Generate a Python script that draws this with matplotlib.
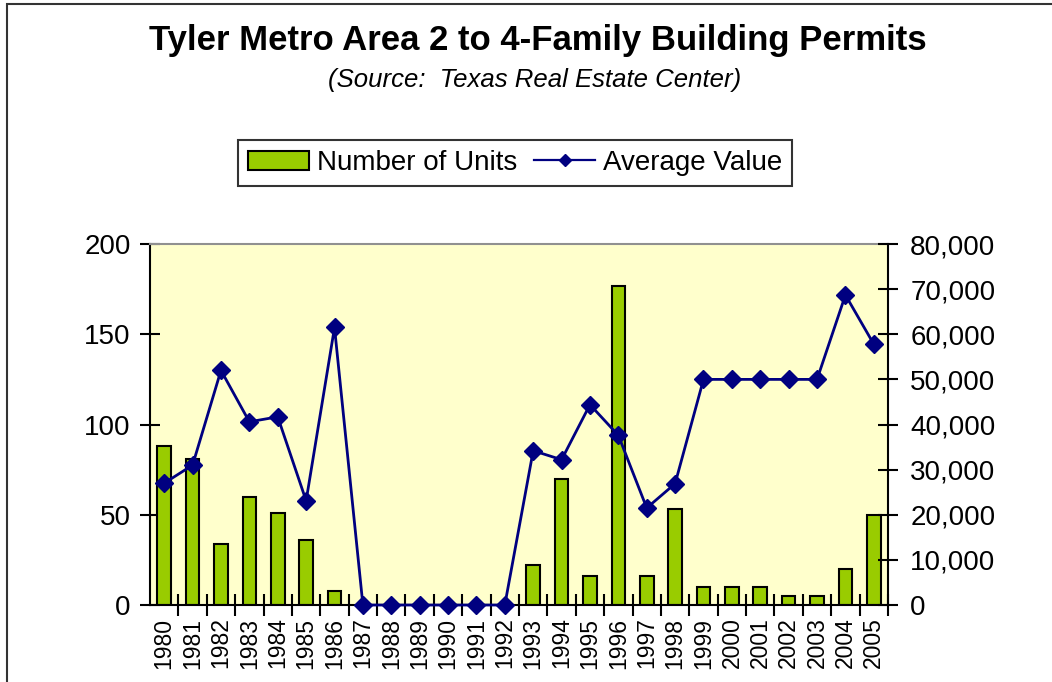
import matplotlib

matplotlib.use("Agg")
import matplotlib.pyplot as plt
from matplotlib.lines import Line2D
from matplotlib.patches import Patch, Rectangle
from matplotlib.ticker import FuncFormatter

plt.rcParams["font.family"] = ["Liberation Sans", "DejaVu Sans"]

years = [str(y) for y in range(1980, 2006)]
units = [88, 81, 34, 60, 51, 36, 8, 0, 0, 0, 0, 0, 0,
         22, 70, 16, 177, 16, 53, 10, 10, 10, 5, 5, 20, 50]
avg_value = [27000, 31000, 52000, 40600, 41700, 23100, 61500, 0, 0, 0, 0, 0, 0,
             34200, 32200, 44400, 37600, 21500, 26900, 50000, 50000, 50000,
             50000, 50000, 68700, 57800]

_BAR = "#99cc00"
_LINE = "#000080"
_FACE = "#ffffcc"

fig = plt.figure(figsize=(10.52, 6.82), dpi=100, facecolor="white")
ax = fig.add_axes([0.1426, 0.1129, 0.7015, 0.5293])
ax.set_facecolor(_FACE)

x = list(range(len(years)))
ax.bar(x, units, width=0.48, color=_BAR, edgecolor="black", linewidth=1.5, zorder=2)
ax.set_xlim(-0.5, len(years) - 0.5)
ax.set_ylim(0, 200)
ax.set_yticks([0, 50, 100, 150, 200])
ax.tick_params(axis="y", direction="inout", length=14, width=1.5, pad=7, labelsize=20)

ax.set_xticks(x)
ax.set_xticklabels(years, rotation=90, fontsize=16.5)
ax.tick_params(axis="x", which="major", length=0, pad=9)
ax.set_xticks([i + 0.5 for i in x], minor=True)
ax.tick_params(axis="x", which="minor", direction="inout", length=16, width=1.5)

ax.spines["left"].set_linewidth(1.5)
ax.spines["bottom"].set_linewidth(1.5)
ax.spines["top"].set_color("#909090")
ax.spines["top"].set_linewidth(1.5)
ax.spines["right"].set_visible(False)

ax2 = ax.twinx()
ax2.plot(x, avg_value, color=_LINE, linewidth=2, marker="D", markersize=9,
         zorder=3, clip_on=False)
ax2.set_ylim(0, 80000)
ax2.set_yticks(range(0, 80001, 10000))
ax2.yaxis.set_major_formatter(FuncFormatter(lambda v, _: f"{int(v):,}"))
ax2.tick_params(axis="y", direction="inout", length=14, width=1.5, pad=9, labelsize=20)
ax2.spines["right"].set_linewidth(1.5)
for s in ("top", "left", "bottom"):
    ax2.spines[s].set_visible(False)

handles = [
    Patch(facecolor=_BAR, edgecolor="black", linewidth=1.5),
    Line2D([], [], color=_LINE, linewidth=1.6, marker="D", markersize=6),
]
leg = fig.legend(handles, ["Number of Units", "Average Value"], loc="center",
                 bbox_to_anchor=(0.4897, 0.761), ncol=2, fontsize=20,
                 frameon=True, fancybox=False, handlelength=2.2,
                 handletextpad=0.3, columnspacing=0.6, borderpad=0.35)
leg.get_frame().set_edgecolor("black")
leg.get_frame().set_linewidth(1.5)

fig.text(0.511, 0.941, "Tyler Metro Area 2 to 4-Family Building Permits",
         ha="center", va="center", fontsize=25, fontweight="bold")
fig.text(0.508, 0.882, "(Source:  Texas Real Estate Center)",
         ha="center", va="center", fontsize=18.5, style="italic")

fig.patches.append(Rectangle((7 / 1052, -0.1), 1.2, 0.1 + 1 - 4 / 682,
                             transform=fig.transFigure, fill=False,
                             edgecolor="#333333", linewidth=1.5))

fig.savefig("out.png", dpi=100, facecolor="white")
